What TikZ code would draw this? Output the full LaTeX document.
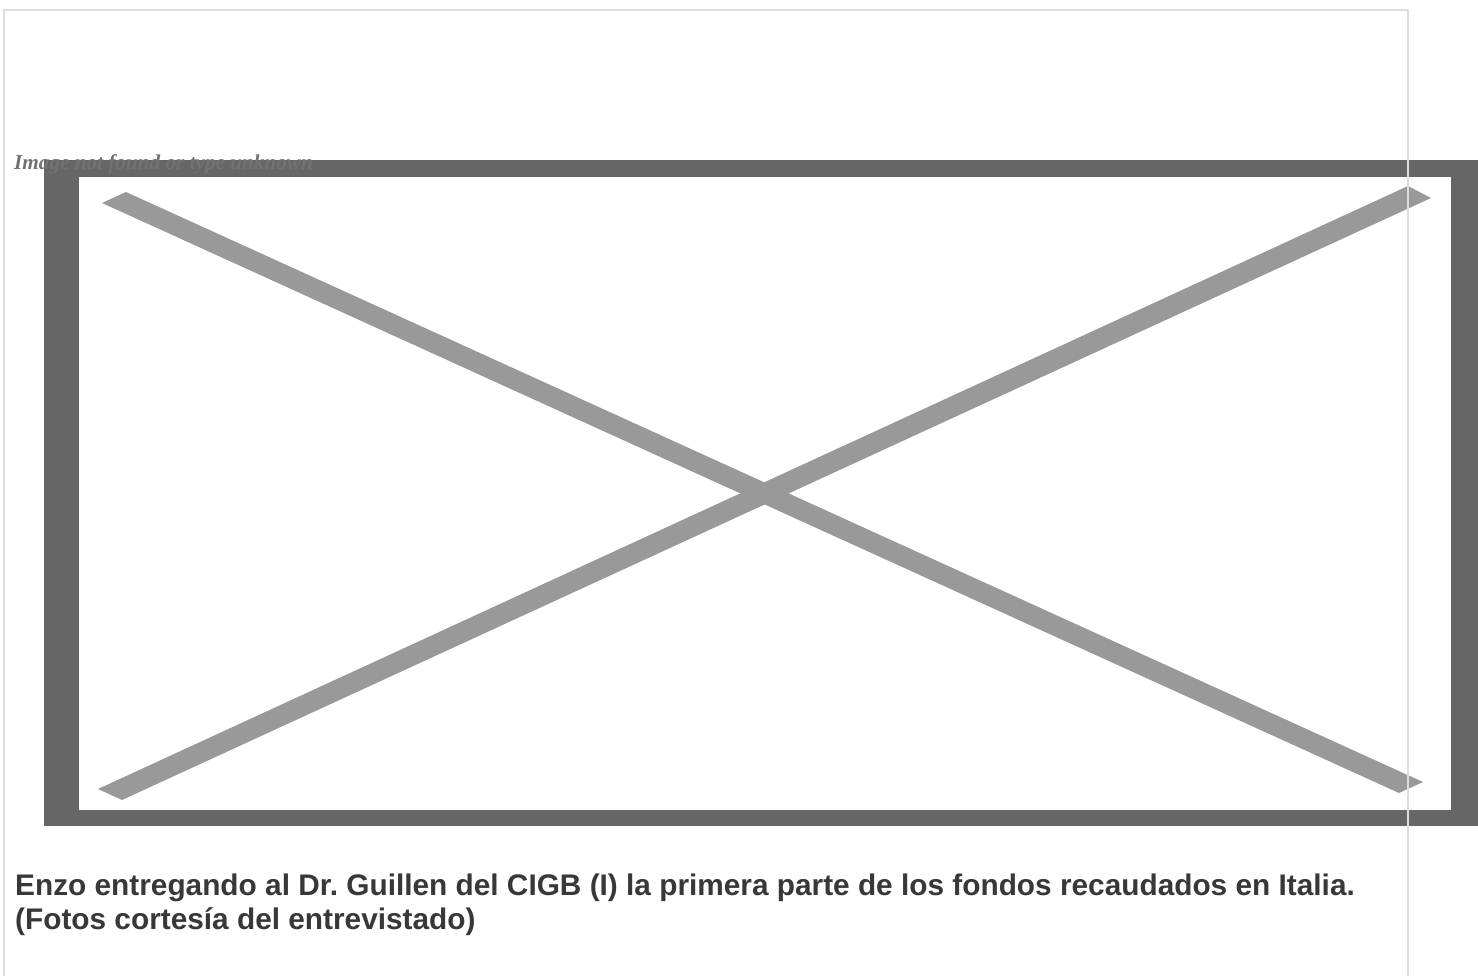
\documentclass[tikz,border=0pt]{standalone}
\usepackage{fontspec}
\setmainfont{Liberation Sans}
\newfontfamily\timesfam{Liberation Serif}
\definecolor{framegray}{HTML}{666666}
\definecolor{stripgray}{HTML}{999999}
\definecolor{bordergray}{HTML}{DDDDDD}
\definecolor{alttext}{HTML}{727272}
\definecolor{captext}{HTML}{383838}
\tikzset{
  captionline/.style={anchor=base west, inner sep=0pt, text=captext, font=\fontsize{29.8}{34}\selectfont\bfseries\frenchspacing},
  alttextstyle/.style={anchor=base west, inner sep=0pt, text=alttext, font=\timesfam\fontsize{21.2}{24}\selectfont\bfseries\itshape},
  strip/.style={fill=stripgray, draw=none}
}
\begin{document}
\begin{tikzpicture}[x=1pt,y=-1pt]
\useasboundingbox (0,0) rectangle (1478,976);
\fill[white] (0,0) rectangle (1478,976);
% dark frame
\fill[framegray] (44,160) rectangle (1478,826);
\fill[white] (79,177) rectangle (1451,810);
% X strips
\fill[strip] (126,192) -- (1423,782) -- (1399,793) -- (102,203) -- cycle;
\fill[strip] (98,789) -- (1408,186) -- (1431,198) -- (122,800) -- cycle;
% page border
\draw[bordergray, line width=2pt] (3.5,990) -- (3.5,10) -- (1407.5,10) -- (1407.5,990);
% texts
\node[alttextstyle] (alt) at (14,170) {Image not found or type unknown};
\node[captionline] (cap1) at (15,895) {Enzo entregando al Dr. Guillen del CIGB (I) la primera parte de los fondos recaudados en Italia.};
\node[captionline] (cap2) at (15,929) {(Fotos cortesía del entrevistado)};
\end{tikzpicture}
\end{document}
